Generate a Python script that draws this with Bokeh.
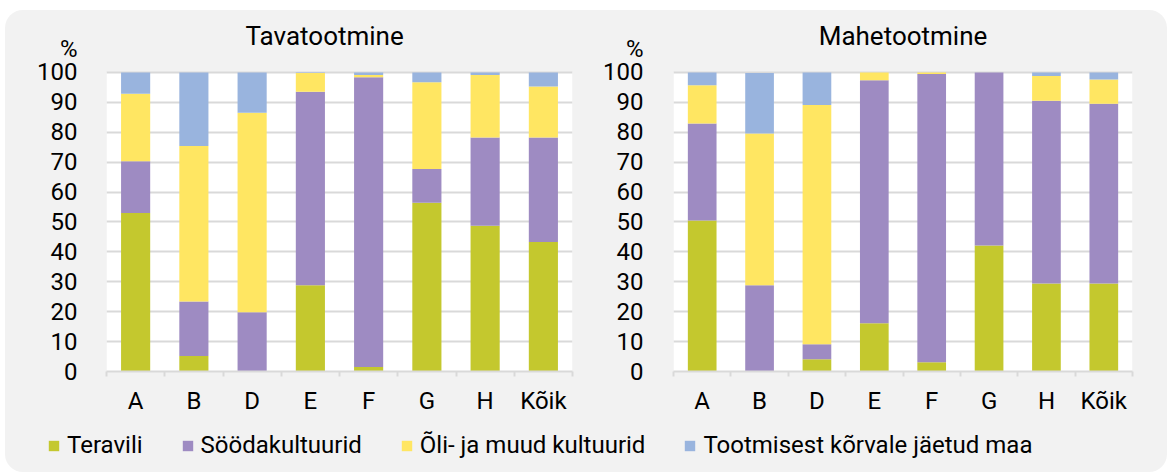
from bokeh.plotting import figure
from bokeh.models import (ColumnDataSource, Range1d, FixedTicker, LinearAxis,
                          Legend, LegendItem, Title, BoxAnnotation)
from bokeh.layouts import row, column
from bokeh.embed import file_html
from bokeh.resources import INLINE

# ---------------- data ----------------
categories = ["A", "B", "D", "E", "F", "G", "H", "Kõik"]
series_names = ["Teravili", "Söödakultuurid", "Õli- ja muud kultuurid",
                "Tootmisest kõrvale jäetud maa"]

# Tavatootmine (conventional)
teravili_t = [53.0, 5.2, 0.0, 28.8, 1.5, 56.4, 48.7, 43.3]
sooda_t = [17.3, 18.2, 19.8, 64.7, 96.9, 11.3, 29.5, 34.9]
oli_t = [22.6, 52.0, 66.7, 6.3, 0.7, 29.0, 20.9, 17.1]
korvale_t = [7.1, 24.6, 13.5, 0.2, 0.9, 3.3, 0.9, 4.7]

# Mahetootmine (organic)
teravili_m = [50.5, 0.0, 4.1, 16.1, 3.1, 42.1, 29.4, 29.4]
sooda_m = [32.4, 28.8, 5.0, 81.3, 96.4, 57.9, 61.1, 60.1]
oli_m = [12.8, 50.8, 80.0, 2.6, 0.5, 0.0, 8.3, 8.1]
korvale_m = [4.3, 20.2, 10.9, 0.0, 0.0, 0.0, 1.2, 2.4]

y_ticks = [0, 10, 20, 30, 40, 50, 60, 70, 80, 90, 100]
unit_label = "%"

# ---------------- style ----------------
COLORS = ["#c4c82e", "#9e8bc2", "#ffe662", "#99b4de"]
FONT = "Roboto"
GRID = "#d9d9d9"
KEYS = ["s0", "s1", "s2", "s3"]

n = len(categories)
xpos = list(range(1, n + 1))
bounds = [i + 0.5 for i in range(0, n + 1)]


def make_chart(title, vals, width, left, right, top, bottom, unit_pos,
               title_align, title_offset, ystandoff):
    data = {"x": xpos}
    for k, v in zip(KEYS, vals):
        data[k] = v
    src = ColumnDataSource(data)
    p = figure(width=width, height=410, output_backend="svg", toolbar_location=None,
               x_range=Range1d(0.5, n + 0.5), y_range=Range1d(y_ticks[0], unit_pos),
               min_border_left=left, min_border_right=right,
               min_border_top=top, min_border_bottom=bottom,
               x_axis_location=None, y_axis_location=None)
    p.border_fill_color = None
    p.border_fill_alpha = 0
    p.background_fill_color = None
    p.background_fill_alpha = 0
    p.outline_line_color = None

    # white plot area 0..100
    p.add_layout(BoxAnnotation(bottom=y_ticks[0], top=y_ticks[-1], fill_color="white",
                               fill_alpha=1, line_color=None, level="image"))

    p.vbar_stack(KEYS, x="x", width=0.5, source=src, color=COLORS, line_color=None)

    # x axis: labels at centres, tick marks at category boundaries
    xa = LinearAxis(ticker=FixedTicker(ticks=xpos, minor_ticks=bounds))
    xa.major_label_overrides = {c: cat for c, cat in zip(xpos, categories)}
    xa.major_tick_out = 0
    xa.major_tick_in = 0
    xa.minor_tick_out = 5
    xa.minor_tick_in = 0
    xa.minor_tick_line_color = GRID
    xa.minor_tick_line_width = 2
    xa.axis_line_color = GRID
    xa.axis_line_width = 2
    xa.major_label_text_font = FONT
    xa.major_label_text_font_size = "24px"
    xa.major_label_text_color = "black"
    xa.major_label_standoff = 10
    p.add_layout(xa, "below")

    # y axis; the unit sign sits as an extra label above 100
    ya = LinearAxis(ticker=FixedTicker(ticks=y_ticks + [unit_pos]))
    ya.major_label_overrides = {unit_pos: unit_label}
    ya.axis_line_color = None
    ya.major_tick_line_color = None
    ya.minor_tick_line_color = None
    ya.major_label_text_font = FONT
    ya.major_label_text_font_size = "24px"
    ya.major_label_text_color = "black"
    ya.major_label_standoff = ystandoff
    p.add_layout(ya, "left")

    p.ygrid.grid_line_color = GRID
    p.ygrid.grid_line_width = 2
    p.ygrid.ticker = FixedTicker(ticks=y_ticks)
    p.xgrid.grid_line_color = None

    p.title = Title(text=title, align=title_align, offset=title_offset, standoff=-4,
                    text_font=FONT, text_font_size="26px",
                    text_font_style="normal", text_color="black")
    return p


p1 = make_chart("Tavatootmine", [teravili_t, sooda_t, oli_t, korvale_t],
                585, 101, 18, 38, 49, 108, "left", 139, 23)
p2 = make_chart("Mahetootmine", [teravili_m, sooda_m, oli_m, korvale_m],
                577, 83, 35, 38, 49, 108, "center", -4, 24)

# legend strip
lsrc = ColumnDataSource({"x": xpos, "s0": teravili_t, "s1": sooda_t, "s2": oli_t, "s3": korvale_t})
pl = figure(width=1162, height=52, output_backend="svg", toolbar_location=None,
            x_range=Range1d(100, 101), y_range=Range1d(100, 101),
            min_border=0, x_axis_location=None, y_axis_location=None)
pl.border_fill_color = None
pl.border_fill_alpha = 0
pl.background_fill_color = None
pl.background_fill_alpha = 0
pl.outline_line_color = None
pl.xgrid.grid_line_color = None
pl.ygrid.grid_line_color = None
rs = pl.vbar_stack(KEYS, x="x", width=0.5, source=lsrc, color=COLORS, line_color=None)
leg = Legend(items=[LegendItem(label=nm, renderers=[r]) for nm, r in zip(series_names, rs)],
             orientation="horizontal", location=(42, 13),
             glyph_width=13, glyph_height=13, label_height=13, label_standoff=7,
             spacing=38, padding=0, margin=0,
             label_text_font=FONT, label_text_font_size="24px", label_text_color="black",
             border_line_color=None, background_fill_alpha=0)
pl.add_layout(leg)

layout = column(row(p1, p2), pl,
                styles={"background-color": "#f2f2f2", "border-radius": "18px",
                        "margin-left": "5px", "margin-top": "10px"})

open("out.html", "w").write(file_html(layout, INLINE))
